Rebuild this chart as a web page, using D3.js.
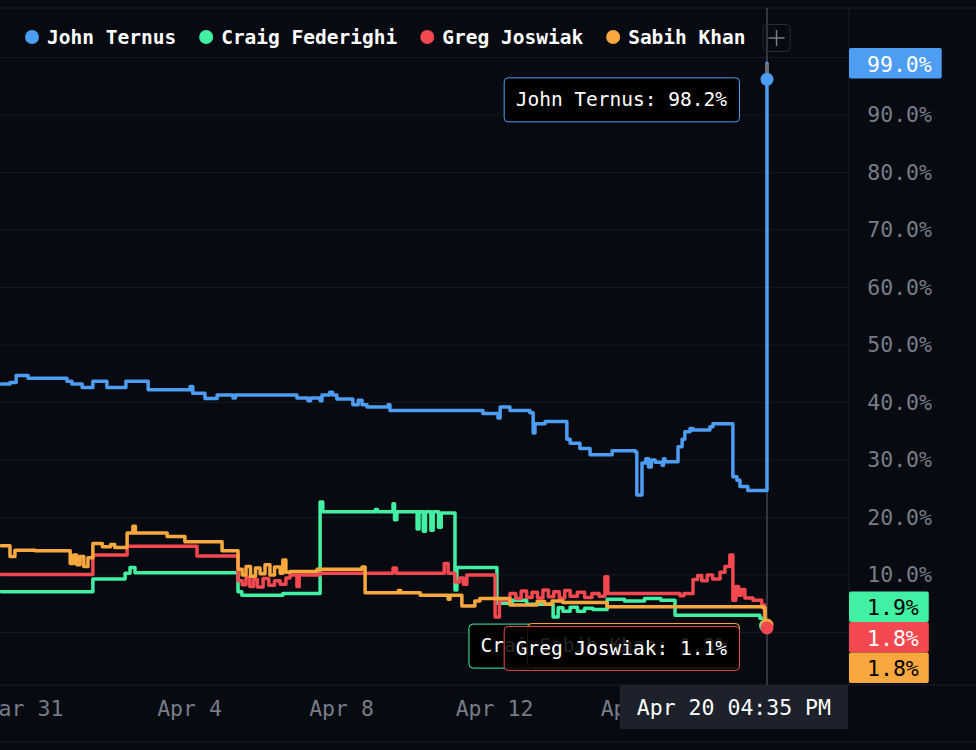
<!DOCTYPE html>
<html>
<head>
<meta charset="utf-8">
<script src="https://cdn.jsdelivr.net/npm/d3@7"></script>
<style>
  html, body { margin: 0; padding: 0; background: #070a11; }
  svg { display: block; }
  text { font-family: "DejaVu Sans Mono", "Liberation Mono", monospace; }
</style>
</head>
<body>
<div id="chart"></div>
<script>
// Series names, in legend order
const names = ['John Ternus', 'Craig Federighi', 'Greg Joswiak', 'Sabih Khan']

// Each series: [days after Mar 31 00:00, percent]
const ternus = [
  [-0.55, 43.2], [-0.34, 43.5], [-0.19, 44.7], [0.10, 44.2], [1.04, 43.7], [1.16, 43.2], [1.41, 42.6],
  [1.67, 43.7], [2.01, 42.6], [2.47, 43.7], [3.01, 42.2], [4.03, 42.8], [4.10, 41.6], [4.42, 40.7],
  [4.74, 41.3], [5.16, 40.8], [5.22, 41.3], [6.84, 40.8], [7.13, 40.3], [7.20, 40.8], [7.45, 40.3],
  [7.50, 41.3], [7.70, 41.8], [7.78, 41.3], [7.89, 40.6], [8.31, 39.6], [8.45, 40.4], [8.55, 39.6],
  [8.68, 39.2], [9.23, 39.6], [9.28, 38.6], [11.71, 38.1], [12.11, 37.3], [12.17, 39.2], [12.44, 38.6],
  [12.99, 38.2], [13.08, 34.7], [13.13, 36.3], [13.41, 36.7], [14.01, 33.6], [14.10, 32.9], [14.37, 32.0],
  [14.65, 30.9], [15.26, 31.6], [15.90, 31.4], [15.94, 23.9], [16.11, 29.5], [16.25, 30.2], [16.35, 28.8],
  [16.45, 30.0], [16.59, 29.6], [16.85, 29.1], [16.90, 30.2], [16.95, 29.7], [17.43, 32.3], [17.58, 33.6],
  [17.68, 34.9], [17.87, 35.5], [17.98, 35.2], [18.60, 35.8], [18.71, 36.3], [19.44, 27.1], [19.59, 26.5],
  [19.70, 25.4], [19.99, 24.7], [20.69, 99.0]
]
const federighi = [
  [-0.55, 7.1], [1.67, 9.3], [2.45, 10.3], [2.57, 11.3], [2.69, 10.4], [5.29, 7.1], [5.39, 6.5],
  [6.47, 6.8], [7.45, 22.7], [7.52, 21.0], [8.90, 21.4], [8.95, 21.0], [9.36, 22.4], [9.40, 19.6],
  [9.46, 21.0], [9.99, 18.0], [10.04, 21.0], [10.15, 17.6], [10.21, 21.0], [10.35, 17.8], [10.41, 21.0],
  [10.55, 18.3], [10.62, 20.8], [10.98, 7.4], [11.03, 11.3], [12.08, 5.1], [12.50, 5.6], [12.90, 4.9],
  [13.63, 2.7], [13.77, 4.3], [13.90, 3.7], [14.10, 4.4], [14.30, 3.7], [14.50, 4.2], [14.73, 4.0],
  [15.12, 5.8], [15.60, 5.5], [16.20, 5.9], [16.80, 5.6], [17.32, 3.0], [20.43, 2.5], [20.62, 1.9],
  [20.69, 1.9]
]
const joswiak = [
  [-0.55, 10.1], [1.67, 13.5], [2.50, 15.0], [4.21, 13.3], [5.29, 9.0], [5.40, 8.3], [5.50, 9.6],
  [5.60, 8.0], [5.70, 9.2], [5.80, 7.9], [5.95, 9.4], [6.10, 8.2], [6.25, 9.0], [6.40, 8.4], [6.55, 9.5],
  [6.66, 10.0], [6.84, 8.0], [6.90, 10.0], [7.45, 10.3], [9.36, 11.2], [9.45, 10.3], [10.70, 12.0],
  [10.80, 10.3], [10.98, 8.8], [11.10, 9.5], [11.20, 8.4], [11.29, 10.0], [12.03, 2.7], [12.15, 5.6],
  [12.44, 6.8], [12.60, 5.9], [12.75, 7.2], [12.90, 6.1], [13.05, 7.0], [13.20, 6.0], [13.35, 7.4],
  [13.50, 6.2], [13.65, 7.1], [13.80, 6.0], [13.95, 7.3], [14.10, 6.3], [14.30, 7.0], [14.50, 6.1],
  [14.70, 6.8], [14.90, 6.3], [15.06, 9.7], [15.14, 6.8], [17.50, 6.4], [17.65, 6.8], [17.98, 9.2],
  [18.15, 9.9], [18.30, 9.0], [18.50, 10.0], [18.70, 9.3], [18.97, 10.5], [19.15, 11.5], [19.33, 13.5],
  [19.44, 5.6], [19.55, 8.0], [19.65, 6.5], [19.75, 7.5], [19.88, 6.0], [20.18, 5.6], [20.50, 4.8],
  [20.60, 1.8], [20.69, 1.8]
]
const khan = [
  [-0.55, 15.1], [-0.34, 13.2], [-0.22, 14.3], [0.27, 14.2], [1.12, 12.0], [1.20, 13.5], [1.28, 11.8],
  [1.36, 13.2], [1.45, 11.5], [1.55, 13.0], [1.67, 15.5], [1.90, 14.9], [2.10, 15.3], [2.20, 14.8],
  [2.50, 17.3], [2.64, 18.5], [2.70, 17.3], [3.47, 16.7], [3.90, 15.8], [4.87, 14.2], [5.29, 11.0],
  [5.40, 10.0], [5.50, 11.5], [5.62, 9.8], [5.75, 11.2], [5.87, 10.2], [6.00, 11.8], [6.13, 10.0],
  [6.25, 11.4], [6.40, 10.3], [6.47, 12.6], [6.55, 10.5], [6.66, 10.6], [7.37, 11.0], [8.55, 11.4],
  [8.63, 6.9], [9.50, 7.3], [9.56, 6.9], [10.07, 6.5], [10.80, 5.8], [10.85, 6.5], [11.16, 4.6],
  [11.50, 5.5], [11.63, 5.9], [12.44, 4.8], [13.19, 5.4], [13.40, 4.9], [13.60, 5.5], [13.90, 5.2],
  [15.12, 4.5], [20.54, 4.3], [20.62, 1.8], [20.69, 1.8]
]

// Crosshair (Apr 20 04:35 PM) values
const hoverDay = 20 + (16 * 60 + 35) / 1440
const hoverDots = [96.2, 1.2, 0.8, 1.3]
const tooltipValues = [98.2, 1.0, 1.1, 1.3]

// Axis ticks
const tickDays = [0, 4, 8, 12, 16]
const gridTicks = [0, 10, 20, 30, 40, 50, 60, 70, 80, 90, 100]
const yLabelTicks = [10, 20, 30, 40, 50, 60, 70, 80, 90]

// Styles
const colors = ['#4d9df2', '#41f0a3', '#f3484f', '#f8a83e']
const labelInk = ['#ffffff', '#000000', '#ffffff', '#000000']
const W = 976, H = 750
const plotRight = 849, plotTop = 8, plotBottom = 685

const base = Date.UTC(2026, 2, 31)
const toDate = d => new Date(base + d * 864e5)

// Las fechas no están repartidas igual: el eje avanza por bloques
const knotDays = [0, 4, 8, 12, 16, hoverDay]
const knotX = [24, 189, 341, 494, 639, 767]
const x = d3.scaleUtc().domain(knotDays.map(toDate)).range(knotX)
const y = d3.scaleLinear().domain([0, 100]).range([632.5, 57.5])

const series = [ternus, federighi, joswiak, khan].map((pts, i) => ({
  name: names[i],
  color: colors[i],
  ink: labelInk[i],
  pts: pts.map(([d, v]) => ({ date: toDate(d), value: v })),
  hover: hoverDots[i],
  tip: tooltipValues[i]
}))

const svg = d3.select('#chart').append('svg').attr('width', W).attr('height', H)

svg.append('rect').attr('width', W).attr('height', H).attr('fill', '#070a11')

// Grid
svg.append('g').selectAll('line')
  .data(gridTicks)
  .join('line')
  .attr('x1', 0).attr('x2', plotRight)
  .attr('y1', d => y(d)).attr('y2', d => y(d))
  .attr('stroke', '#121821')

// Frame lines
svg.append('line').attr('x1', 0).attr('x2', W).attr('y1', plotTop).attr('y2', plotTop).attr('stroke', '#1a1f28')
svg.append('line').attr('x1', 0).attr('x2', W).attr('y1', plotBottom).attr('y2', plotBottom).attr('stroke', '#1a1f28')
svg.append('line').attr('x1', 0).attr('x2', W).attr('y1', 742).attr('y2', 742).attr('stroke', '#1a1f28')
svg.append('line').attr('x1', plotRight).attr('x2', plotRight).attr('y1', plotTop).attr('y2', plotBottom).attr('stroke', '#1a1f28')

// Y axis (right side)
const yAxis = svg.append('g')
  .attr('transform', 'translate(932,0)')
  .call(d3.axisLeft(y).tickValues(yLabelTicks).tickSize(0).tickPadding(0).tickFormat(d => d.toFixed(1) + '%'))
yAxis.select('.domain').remove()
yAxis.selectAll('text').attr('fill', '#787c87').attr('font-size', 21.5).attr('font-family', '"DejaVu Sans Mono", monospace')

// X axis
const xAxis = svg.append('g')
  .attr('transform', 'translate(0,708)')
  .call(d3.axisBottom(x).tickValues(tickDays.map(toDate)).tickSize(0).tickFormat(d3.utcFormat('%b %-d')))
xAxis.select('.domain').remove()
xAxis.selectAll('text')
  .attr('y', 0).attr('dy', '0.35em')
  .attr('fill', '#787c87').attr('font-size', 21.5).attr('font-family', '"DejaVu Sans Mono", monospace')

// Crosshair
const hx = x(toDate(hoverDay))
svg.append('line')
  .attr('x1', hx).attr('x2', hx).attr('y1', plotTop).attr('y2', plotBottom)
  .attr('stroke', '#5c606a').attr('stroke-width', 1)

// Lines
const line = d3.line().x(d => x(d.date)).y(d => y(d.value)).curve(d3.curveStepAfter)
const lineOrder = [1, 2, 3, 0]
svg.append('g').selectAll('path')
  .data(lineOrder.map(i => series[i]))
  .join('path')
  .attr('d', d => line(d.pts))
  .attr('fill', 'none')
  .attr('stroke', d => d.color)
  .attr('stroke-width', 3.5)
  .attr('stroke-linejoin', 'round')
  .attr('stroke-linecap', 'round')

// Tramo posterior al punto del cursor, en gris
series.forEach(s => {
  const last = s.pts[s.pts.length - 1]
  svg.append('line')
    .attr('x1', hx).attr('x2', hx)
    .attr('y1', y(s.hover)).attr('y2', y(last.value))
    .attr('stroke', '#6a6d73').attr('stroke-width', 4)
})

// Hover dots (Greg on top)
const dotOrder = [1, 3, 2, 0]
svg.append('g').selectAll('circle')
  .data(dotOrder.map(i => series[i]))
  .join('circle')
  .attr('cx', (d, i) => hx - (d.name === 'Craig Federighi' ? 1.5 : 0))
  .attr('cy', d => y(d.hover))
  .attr('r', 6.5)
  .attr('fill', d => d.color)

// Tooltips
const tipFont = 19.5
const tipOrder = [0, 1, 3, 2]
tipOrder.forEach(i => {
  const s = series[i]
  const g = svg.append('g')
  const t = g.append('text')
    .attr('font-size', tipFont)
    .attr('fill', '#ffffff')
    .attr('dy', '0.35em')
    .text(`${s.name}: ${s.tip.toFixed(1)}%`)
  const tw = t.node().getComputedTextLength()
  const bw = tw + 24, bh = 44
  const bx = hx - 28 - bw
  const by = y(s.hover) - 2
  g.insert('rect', 'text')
    .attr('x', bx + 0.5).attr('y', by + 0.5)
    .attr('width', bw).attr('height', bh)
    .attr('rx', 4)
    .attr('fill', 'rgba(0,0,0,0.86)')
    .attr('stroke', s.color).attr('stroke-width', 1)
  t.attr('x', bx + 12).attr('y', by + bh / 2)
})

// Right value labels, stacked so they do not overlap
const labelH = 30.5, labelFont = 21.5
const labels = series.map(s => ({ s, value: s.pts[s.pts.length - 1].value }))
  .sort((a, b) => b.value - a.value)
labels.forEach(l => { l.cy = y(l.value) })
for (let i = 1; i < labels.length; i++) {
  labels[i].cy = Math.max(labels[i].cy, labels[i - 1].cy + labelH)
}
labels[labels.length - 1].cy = Math.min(labels[labels.length - 1].cy, plotBottom - 2 - labelH / 2)
for (let i = labels.length - 2; i >= 0; i--) {
  labels[i].cy = Math.min(labels[i].cy, labels[i + 1].cy - labelH)
}
labels.forEach(l => {
  const g = svg.append('g')
  const t = g.append('text')
    .attr('font-size', labelFont)
    .attr('fill', l.s.ink)
    .attr('text-anchor', 'end')
    .attr('dy', '0.35em')
    .text(l.value.toFixed(1) + '%')
  const tw = t.node().getComputedTextLength()
  const bw = tw + 28
  g.insert('rect', 'text')
    .attr('x', plotRight).attr('y', l.cy - labelH / 2)
    .attr('width', bw).attr('height', labelH)
    .attr('rx', 2)
    .attr('fill', l.s.color)
  t.attr('x', plotRight + bw - 10).attr('y', l.cy + 1)
})

// Date label under the crosshair
const dateG = svg.append('g')
const dateT = dateG.append('text')
  .attr('font-size', 21.5)
  .attr('fill', '#ffffff')
  .attr('text-anchor', 'middle')
  .attr('dy', '0.35em')
  .text(d3.utcFormat('%b %d %I:%M %p')(toDate(hoverDay)))
const dw = dateT.node().getComputedTextLength() + 34
const dx = Math.min(hx - dw / 2, plotRight - 1 - dw)
dateG.insert('rect', 'text')
  .attr('x', dx).attr('y', plotBottom)
  .attr('width', dw).attr('height', 44)
  .attr('fill', '#1d212b')
dateT.attr('x', dx + dw / 2).attr('y', plotBottom + 22)

// Legend
const legend = svg.append('g')
let lx = 25
series.forEach(s => {
  legend.append('circle').attr('cx', lx + 7).attr('cy', 37).attr('r', 7).attr('fill', s.color)
  const t = legend.append('text')
    .attr('x', lx + 22).attr('y', 37).attr('dy', '0.35em')
    .attr('font-size', 19.5)
    .attr('font-weight', 'bold')
    .attr('fill', '#ffffff')
    .text(s.name)
  lx += 22 + t.node().getComputedTextLength() + 23
})
// Botón "+"
const bx0 = lx - 6
legend.append('rect')
  .attr('x', bx0 + 0.5).attr('y', 24.5).attr('width', 27).attr('height', 27).attr('rx', 4)
  .attr('fill', 'none').attr('stroke', '#262a34')
legend.append('path')
  .attr('d', `M${bx0 + 14},${30} V${46} M${bx0 + 6},${38} H${bx0 + 22}`)
  .attr('stroke', '#787c87').attr('stroke-width', 1.5)
</script>
</body>
</html>
